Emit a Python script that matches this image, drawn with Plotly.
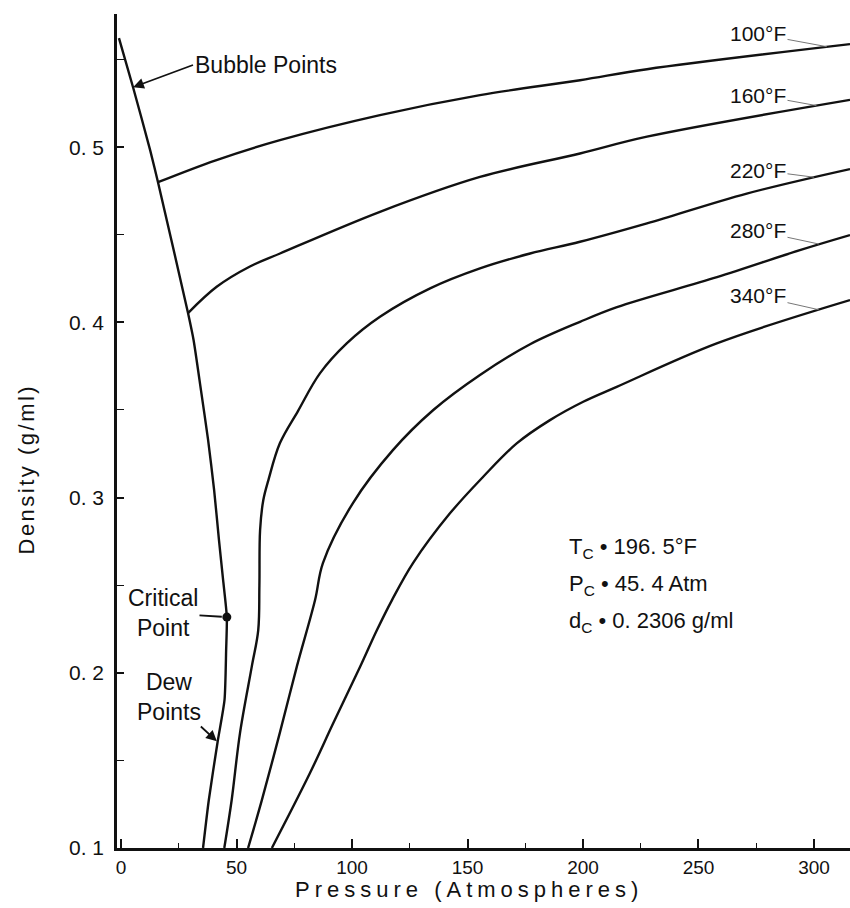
import numpy as np
import plotly.graph_objects as go

# ---- data (pressure in atm, density in g/ml) ----
bubble_p = [-0.9, 5.2, 12.6, 16.0, 29.0, 31.4, 34.6, 37.7, 40.3, 42.4, 44.2, 45.8]
bubble_d = [0.5622, 0.5342, 0.4983, 0.4800, 0.4053, 0.3899, 0.3613, 0.3328, 0.3043, 0.2757, 0.2529, 0.2318]

dew_p = [45.8, 45.5, 44.8, 41.8, 38.0, 35.5]
dew_d = [0.2318, 0.213, 0.1845, 0.1605, 0.1274, 0.100]

crit_p = [45.8]
crit_d = [0.2318]

t100_p = [16.0, 41.0, 68.8, 112.1, 155.4, 198.7, 227.7, 315.6]
t100_d = [0.480, 0.4925, 0.504, 0.5183, 0.5297, 0.5382, 0.5445, 0.5588]

t160_p = [29.0, 41.4, 55.8, 68.8, 112.1, 155.4, 198.7, 227.7, 315.6]
t160_d = [0.4053, 0.4203, 0.4319, 0.4393, 0.4631, 0.4830, 0.4964, 0.5060, 0.527]

t220_p = [44.7, 47.9, 51.5, 56.6, 59.4, 59.9, 60.2, 61.6, 63.8, 68.8, 76.6, 86.1, 97.7, 112.1,
          133.8, 155.4, 177.1, 198.7, 227.7, 270.9, 315.6]
t220_d = [0.100, 0.1274, 0.1656, 0.2035, 0.2244, 0.250, 0.2815, 0.2986, 0.310, 0.3311, 0.3494, 0.3709,
          0.3880, 0.4032, 0.4194, 0.4308, 0.4393, 0.4460, 0.4565, 0.4735, 0.4875]

t280_p = [55.0, 60.9, 68.8, 76.1, 84.0, 87.4, 100.4, 117.7, 135.2, 155.4, 177.1, 198.7, 214.7, 258.0,
          293.9, 315.6]
t280_d = [0.100, 0.127, 0.166, 0.2035, 0.2415, 0.2626, 0.2969, 0.3271, 0.350, 0.370, 0.3875, 0.4003,
          0.4087, 0.4258, 0.4412, 0.4498]

t340_p = [65.3, 81.8, 91.9, 103.5, 110.8, 117.3, 126.4, 142.4, 156.8, 171.3, 185.7, 200.1, 214.6,
          257.9, 315.6]
t340_d = [0.100, 0.1428, 0.1713, 0.2034, 0.2244, 0.2415, 0.2626, 0.2910, 0.3119, 0.3309, 0.3442,
          0.3547, 0.3632, 0.3880, 0.4127]

iso_labels = ["100°F", "160°F", "220°F", "280°F", "340°F"]
iso_p = [t100_p, t160_p, t220_p, t280_p, t340_p]
iso_d = [t100_d, t160_d, t220_d, t280_d, t340_d]

x_tickvals = [0, 50, 100, 150, 200, 250, 300]
y_tickvals = [0.1, 0.2, 0.3, 0.4, 0.5]
y_ticktext = ["0. 1", "0. 2", "0. 3", "0. 4", "0. 5"]

const_lines = ["T<sub>C</sub> • 196. 5°F", "P<sub>C</sub> • 45. 4 Atm", "d<sub>C</sub> • 0. 2306 g/ml"]

# ---- layout geometry ----
W, H = 850, 908
ML, MR, MT, MB = 117, 0, 14, 60
XR = [-1.75, 315.6]
YR = [0.1, 0.576]
pw, ph = W - ML - MR, H - MT - MB


def px(p):
    return ML + (p - XR[0]) / (XR[1] - XR[0]) * pw


def py(d):
    return MT + (YR[1] - d) / (YR[1] - YR[0]) * ph


FONT = "Liberation Sans, Arial, sans-serif"
INK = "#111111"
line = dict(color=INK, width=2.4)

fig = go.Figure()
fig.add_trace(go.Scatter(x=bubble_p + dew_p[1:], y=bubble_d + dew_d[1:], mode="lines",
                         name="Bubble / Dew Points",
                         line=dict(line, shape="spline", smoothing=0.6)))
for lab, p, d in zip(iso_labels, iso_p, iso_d):
    fig.add_trace(go.Scatter(x=p, y=d, mode="lines", name=lab,
                             line=dict(line, shape="spline", smoothing=1.0)))
fig.add_trace(go.Scatter(x=crit_p, y=crit_d, mode="markers", name="Critical Point",
                         marker=dict(size=9, color=INK)))

ann = []
big = dict(family=FONT, size=23, color=INK)

# Bubble points label
hp, hd = bubble_p[1], bubble_d[1]
ann.append(dict(x=hp, y=hd, xref="x", yref="y", text="Bubble Points", showarrow=True,
                ax=193 - px(hp), ay=65 - py(hd), xanchor="left", yanchor="middle",
                arrowhead=2, arrowsize=1.2, arrowwidth=1.8, arrowcolor=INK, font=big))
# Critical point label
ann.append(dict(x=crit_p[0], y=crit_d[0], xref="x", yref="y", text="Critical<br>Point",
                showarrow=True, ax=163 - px(crit_p[0]), ay=613 - py(crit_d[0]),
                arrowhead=0, arrowwidth=1.8, arrowcolor=INK, standoff=5, font=big, align="center"))
# Dew points label
hp, hd = dew_p[3], dew_d[3]
ann.append(dict(x=hp, y=hd, xref="x", yref="y", text="Dew<br>Points", showarrow=True,
                ax=169 - px(hp), ay=697 - py(hd), arrowhead=2, arrowsize=1.2, arrowwidth=1.8,
                arrowcolor=INK, standoff=1, font=big, align="center"))

# Isotherm labels
label_y = [34, 95, 170, 231, 296]
head_p = [306.0, 301.5, 300.5, 302.5, 302.5]
for lab, p, d, ty, hp in zip(iso_labels, iso_p, iso_d, label_y, head_p):
    hd = float(np.interp(hp, p, d))
    ann.append(dict(x=hp, y=hd, xref="x", yref="y", text=lab, showarrow=True,
                    ax=758 - px(hp), ay=ty - py(hd), arrowhead=0, arrowwidth=1,
                    arrowcolor="#777777", standoff=1,
                    font=dict(family=FONT, size=21, color=INK)))

# Critical constants
for txt, ty in zip(const_lines, [548, 585, 622]):
    ann.append(dict(x=(567 - ML) / pw, y=1 - (ty - MT) / ph, xref="paper", yref="paper",
                    text=txt, showarrow=False, xanchor="left", yanchor="middle",
                    font=dict(family=FONT, size=22, color=INK)))

# Axis titles
ann.append(dict(x=(469 - ML) / pw, y=1 - (890 - MT) / ph, xref="paper", yref="paper",
                text="Pressure (Atmospheres)", showarrow=False, xanchor="center", yanchor="middle",
                font=dict(family=FONT, size=22, color=INK)))
ann.append(dict(x=(26 - ML) / pw, y=1 - (469 - MT) / ph, xref="paper", yref="paper",
                text="Density (g/ml)", showarrow=False, textangle=-90, xanchor="center",
                yanchor="middle", font=dict(family=FONT, size=22, color=INK)))

fig.update_layout(
    width=W, height=H, margin=dict(l=ML, r=MR, t=MT, b=MB),
    paper_bgcolor="white", plot_bgcolor="white", showlegend=False,
    font=dict(family=FONT, size=20, color=INK),
    annotations=ann,
)
fig.update_xaxes(range=XR, tickvals=x_tickvals, ticks="inside", ticklen=9, tickwidth=1.5,
                 tickcolor=INK, showline=True, linewidth=2.5, linecolor=INK, showgrid=False,
                 zeroline=False, tickfont=dict(family=FONT, size=19, color=INK),
                 minor=dict(dtick=25, tick0=0, ticks="inside", ticklen=5, tickwidth=1.2, tickcolor=INK))
fig.update_yaxes(range=YR, tickvals=y_tickvals, ticktext=y_ticktext, ticks="inside", ticklen=7,
                 tickwidth=1.5, tickcolor=INK, showline=True, linewidth=2.5, linecolor=INK,
                 showgrid=False, zeroline=False, ticklabelstandoff=6,
                 tickfont=dict(family=FONT, size=21, color=INK),
                 minor=dict(dtick=0.05, tick0=0.1, ticks="inside", ticklen=7, tickwidth=1.2, tickcolor=INK))

post = """
document.body.style.margin = '0';
document.documentElement.style.overflow = 'hidden';
document.querySelectorAll('text.annotation-text').forEach(function (t) {
  if (t.textContent === 'Pressure (Atmospheres)') { t.style.letterSpacing = '5px'; }
  if (t.textContent === 'Density (g/ml)') { t.style.letterSpacing = '2.5px'; }
});
"""

fig.write_html("out.html", post_script=post, config={"displayModeBar": False})
